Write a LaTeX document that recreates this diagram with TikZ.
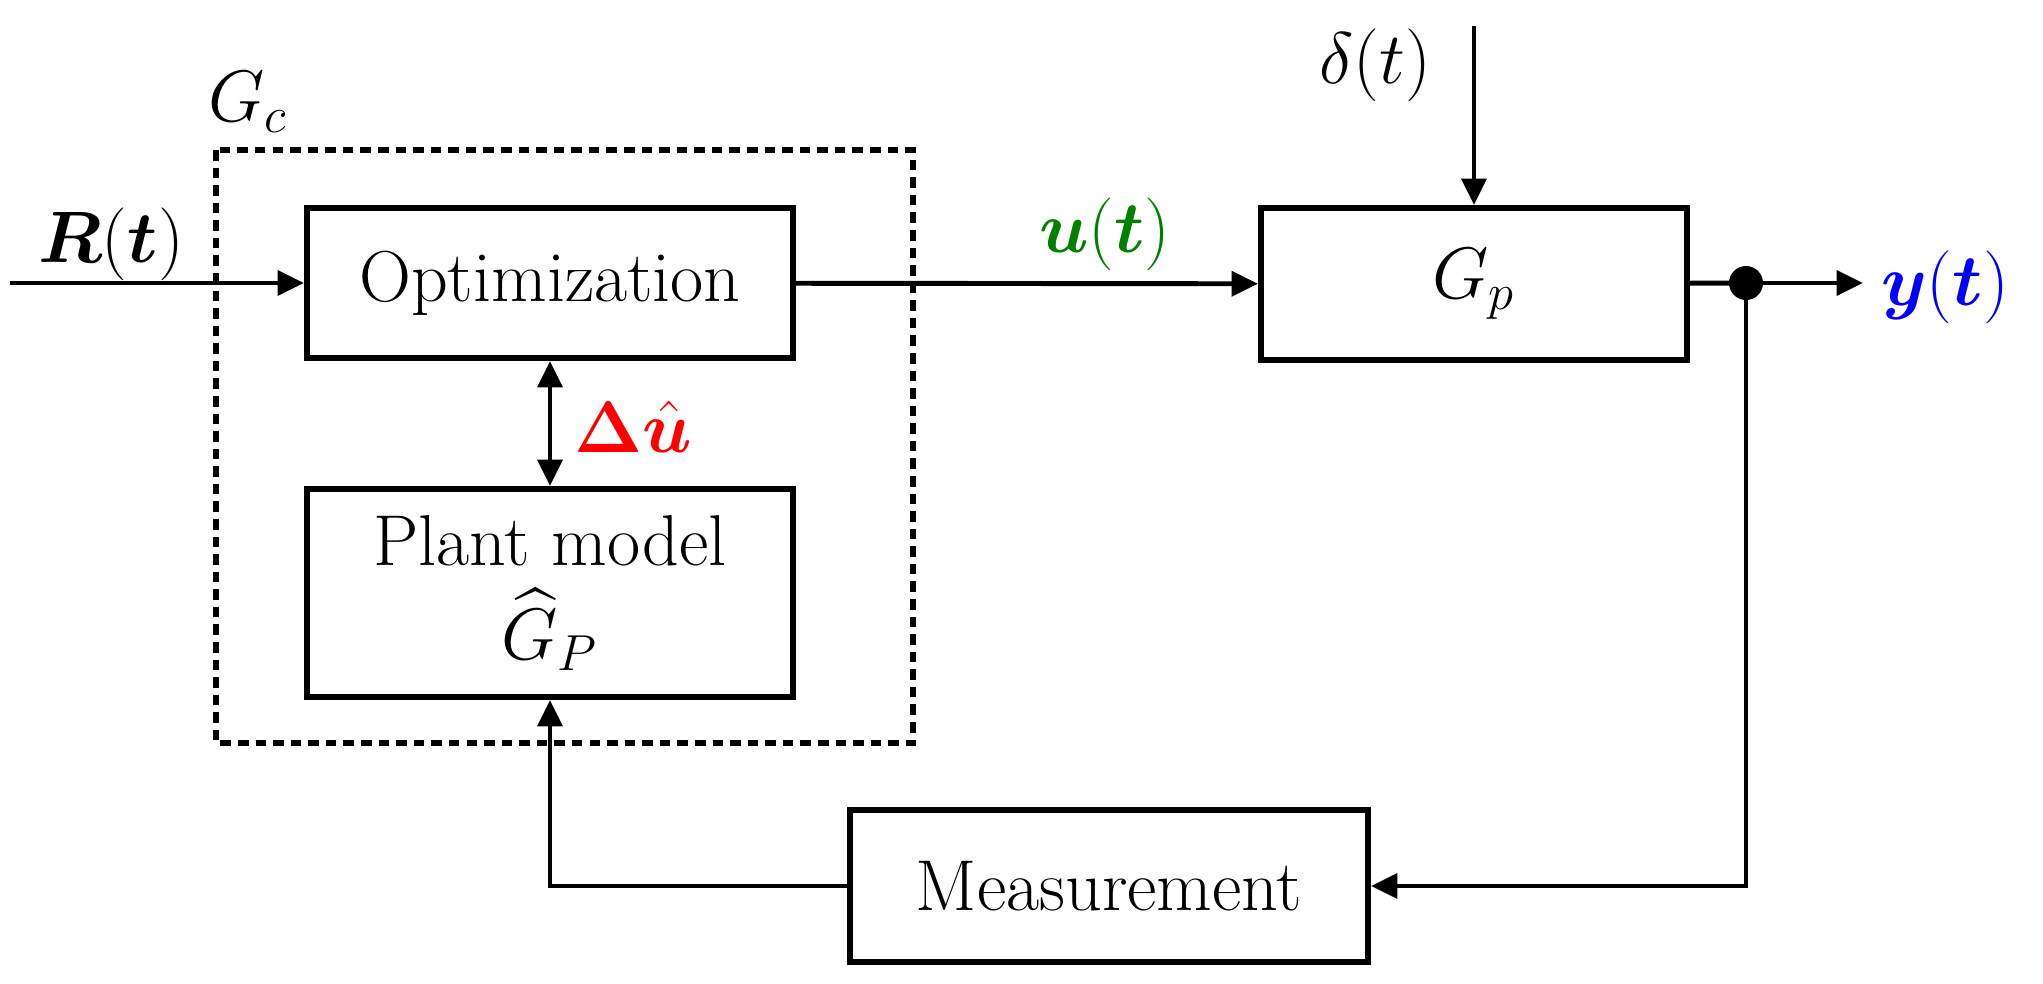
\documentclass[tikz,border=0pt]{standalone}
\usepackage{amsmath,bm}
\usetikzlibrary{arrows.meta}
\definecolor{xanh}{RGB}{0,128,0}
\definecolor{lam}{RGB}{0,0,255}
\tikzset{khoi/.style={draw,line width=1.7pt,inner sep=0pt,align=center},
	day/.style={line width=1.4pt},
	nhan/.style={inner sep=0pt}}
\begin{document}
\begin{tikzpicture}[x=1cm,y=1cm,line join=miter,>={Triangle[length=7.5pt,width=7pt]},font=\fontsize{20.5}{25}\selectfont]
	\useasboundingbox (0,0) rectangle (20.43,-9.84);
	% bo dieu khien G_c
	\node[khoi,minimum width=4.86cm,minimum height=1.50cm] (opt) at (5.50,-2.83) {Optimization};
	\node[khoi,minimum width=4.86cm,minimum height=2.08cm] (plant) at (5.50,-5.93) {Plant model\\[2pt] $\widehat{G}_P$};
	\draw[line width=1.6pt,dash pattern=on 3pt off 2pt] (2.16,-1.50) rectangle (9.13,-7.43);
	\node[nhan] (gc) at (2.48,-1.02) {$G_c$};
	% doi tuong G_p va khoi do
	\node[khoi,minimum width=4.26cm,minimum height=1.52cm] (gp) at (14.74,-2.84) {$G_p$};
	\node[khoi,minimum width=5.18cm,minimum height=1.52cm] (meas) at (11.09,-8.86) {Measurement};
	\coordinate (rin) at (0.10,-2.83);
	\coordinate (dtop) at (14.74,-0.26);
	\coordinate (yout) at (18.63,-2.83);
	\fill (17.46,-2.83) circle (0.17) coordinate (nut);
	% nhan
	\node[nhan] (rt) at (1.11,-2.44) {$\bm{R}(\bm{t})$};
	\node[nhan,text=red] (du) at (6.33,-4.27) {$\bm{\Delta}\hat{\bm{u}}$};
	\node[nhan,text=xanh] (ut) at (11.05,-2.34) {$\bm{u}(\bm{t})$};
	\node[nhan] (dt) at (13.75,-0.65) {$\delta(t)$};
	\node[nhan,text=lam] (yt) at (19.45,-2.87) {$\bm{y}(\bm{t})$};
	% cac duong noi
	\draw[day,->] (rin) -- (opt);
	\draw[day,<->] (opt) -- (plant);
	\draw[day,->] (opt) -- (gp);
	\draw[day,->] (dtop) -- (gp);
	\draw[day] (gp) -- (nut);
	\draw[day,->] (nut) -- (yout);
	\draw[day,->] (nut) |- (meas);
	\draw[day,->] (meas) -| (plant);
\end{tikzpicture}
\end{document}
